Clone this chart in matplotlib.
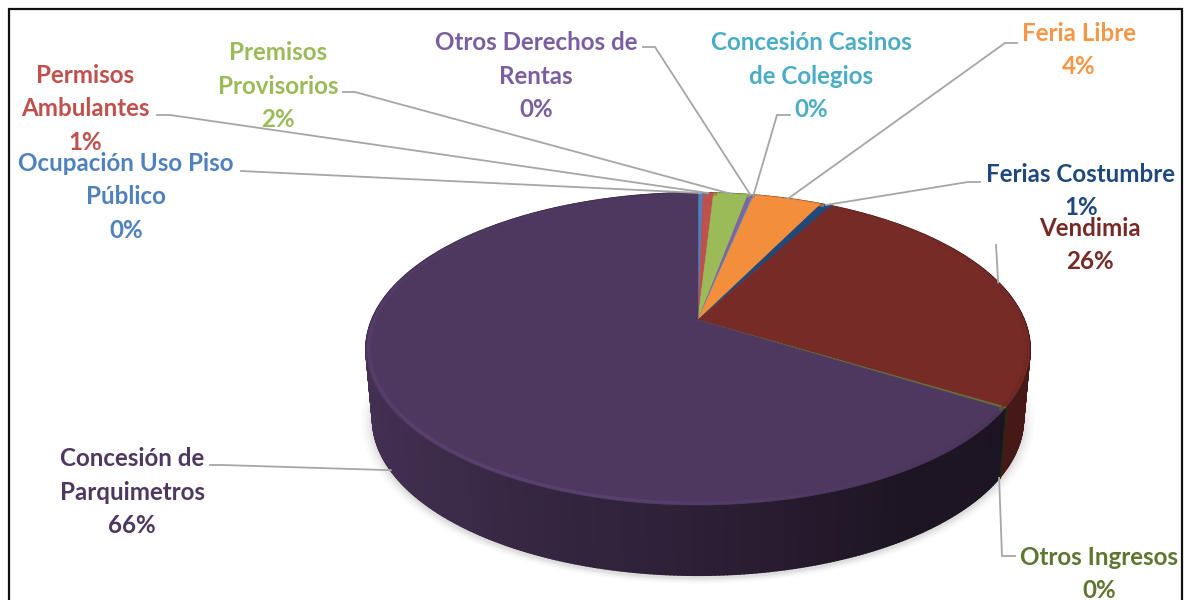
import numpy as np
import matplotlib
matplotlib.use('Agg')
import matplotlib.pyplot as plt
from matplotlib.collections import LineCollection, PolyCollection
from matplotlib.colors import to_rgb

plt.rcParams['font.family'] = ['Lato', 'DejaVu Sans']

# slices, clockwise from the top of the pie
names = ['Ocupación Uso Piso\nPúblico', 'Permisos\nAmbulantes', 'Premisos\nProvisorios',
         'Otros Derechos de\nRentas', 'Concesión Casinos\nde Colegios', 'Feria Libre',
         'Ferias Costumbre', 'Vendimia', 'Otros Ingresos', 'Concesión de\nParquimetros']
values = [0.3, 0.6, 2.0, 0.3, 0.05, 4.0, 0.6, 25.9, 0.15, 66.1]
percents = ['0%', '1%', '2%', '0%', '0%', '4%', '1%', '26%', '0%', '66%']
colors = ['#4f81bd', '#c0504d', '#9bbb59', '#8064a2', '#4bacc6', '#f28e3c',
          '#1f497d', '#772b27', '#5f7530', '#4f3860']
text_colors = ['#4f81bd', '#c0504d', '#9bbb59', '#7a5fa0', '#4bacc6', '#f79646',
               '#1f497d', '#772b27', '#5f7530', '#4f3860']
wall_boost = [1, 1, 1, 1, 1, 1, 1, 1.6, 1, 1]

# label centre, end of leader next to the text, knee of the leader
label_xy = [(126, 197), (85, 109), (278, 86), (536, 76), (811, 76),
            (1079, 50), (1081, 191), (1090, 245), (1099, 574), (132, 492)]
leader_end = [(241, 171), (157, 115), (343, 92), (643, 47), (790, 115),
              (1017, 43), (980, 182), (996, 245), (1015, 556), (210, 465)]
leader_knee = [(241, 171), (170, 115), (355, 92), (655, 47), (777, 115),
               (1005, 43), (968, 182), (996, 245), (1002, 556), (222, 465)]
leader_drop = [0, 0, 0, 0, 0, 0, 0, 0, 70, 70]

# pie seen in perspective: the apex sits above the middle of the ellipse
CX, CY = 698, 349
A, B, K, APEX = 326, 156, 0.186, 29
DEPTH = 70
WALL_SHRINK = 0.98


def project(theta, r=1.0, drop=0, shrink=1.0):
    u = r * np.sin(theta)
    v = r * np.cos(theta)
    d = 1 + K * v
    return CX + shrink * A * u / d, CY - (B * v + APEX) / d + drop


def wall_shade(x):
    t = np.clip((x - 366) / 664, 0, 1)
    return np.interp(t, [0, 0.25, 0.55, 0.8, 1], [0.85, 0.68, 0.54, 0.38, 0.36])


fig = plt.figure(figsize=(11.91, 6), dpi=100)
ax = fig.add_axes([0, 0, 1, 1])
ax.set_xlim(0, 1191)
ax.set_ylim(600, 0)
ax.axis('off')

edges = np.cumsum([0] + values) / sum(values) * 2 * np.pi
full = np.linspace(0, 2 * np.pi, 361)

# soft shadow under the pie
for grow, alpha in zip([1.035, 1.025, 1.017, 1.01, 1.004], [0.035, 0.045, 0.06, 0.07, 0.08]):
    sx, sy = project(full, drop=DEPTH + 3, shrink=WALL_SHRINK)
    ax.fill(CX + (sx - CX) * grow, CY + DEPTH + (sy - CY - DEPTH) * grow,
            color='#808080', alpha=alpha, lw=0)

# side wall, strip by strip
for i, col in enumerate(colors):
    th = np.linspace(edges[i], edges[i + 1], max(2, int(values[i] * 6)))
    x0, y0 = project(th)
    x1, y1 = project(th, drop=DEPTH, shrink=WALL_SHRINK)
    polys, fc = [], []
    for j in range(len(th) - 1):
        polys.append([(x0[j], y0[j]), (x0[j + 1], y0[j + 1]), (x1[j + 1], y1[j + 1]), (x1[j], y1[j])])
        fc.append(np.clip(np.array(to_rgb(col)) * wall_shade(x0[j]) * wall_boost[i], 0, 1))
    ax.add_collection(PolyCollection(polys, facecolors=fc, edgecolors=fc, linewidths=1.5))

# top face
for i, col in enumerate(colors):
    th = np.linspace(edges[i], edges[i + 1], max(2, int(values[i] * 12)))
    x, y = project(th)
    ax.fill(np.r_[CX, x], np.r_[CY - APEX, y], color=col, lw=0.4)

# bevel along the rim: light on the left and front, dark on the right
th = np.linspace(0, 2 * np.pi, 361)
base = np.array([to_rgb(colors[min(np.searchsorted(edges, t, side='right') - 1, len(colors) - 1)]) for t in th[:-1]])
x, y = project(th, r=0.992)
segs = np.stack([np.c_[x[:-1], y[:-1]], np.c_[x[1:], y[1:]]], axis=1)
front = np.clip(0.5 - 0.5 * np.cos(th[:-1]), 0, 1)
f = 1 + 0.28 * front * np.clip((880 - x[:-1]) / 300, -1.6, 1)
line_c = np.c_[np.clip(base * f[:, None], 0, 1), np.full(len(f), 0.55)]
ax.add_collection(LineCollection(segs, colors=line_c, linewidths=2.4, capstyle='butt'))

# leaders and labels
mids = (edges[:-1] + edges[1:]) / 2
for i in range(len(names)):
    ax_, ay_ = project(mids[i], drop=leader_drop[i],
                       shrink=WALL_SHRINK if leader_drop[i] else 1.0)
    ax.plot([ax_, leader_knee[i][0], leader_end[i][0]],
            [ay_, leader_knee[i][1], leader_end[i][1]],
            color='#a6a6a6', lw=1.3, solid_joinstyle='miter', zorder=3)
    ax.text(label_xy[i][0], label_xy[i][1], names[i] + '\n' + percents[i],
            color=text_colors[i], fontsize=17.4, fontweight='bold',
            ha='center', va='center', linespacing=1.53, zorder=4)

# frame, the bottom edge is cut off
ax.plot([9, 9, 1182, 1182], [600, 9, 9, 600], color='#111111', lw=1.6,
        solid_joinstyle='miter', zorder=5)

fig.savefig('out.png', dpi=100)
